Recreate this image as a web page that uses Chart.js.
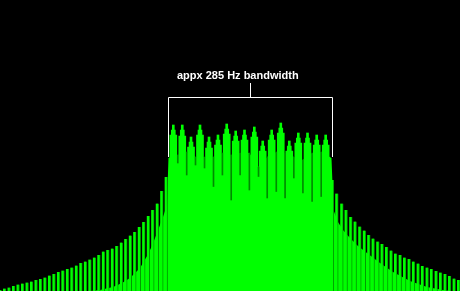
<!DOCTYPE html>
<html>
<head>
<meta charset="utf-8">
<script src="https://cdn.jsdelivr.net/npm/chart.js@4/dist/chart.umd.min.js"></script>
<style>
  html, body { margin: 0; padding: 0; background: #000; }
  #wrap { position: relative; width: 460px; height: 291px; }
  #label {
    position: absolute; left: 177px; top: 69px;
    font: bold 11px "Liberation Sans", Arial, sans-serif; line-height: 13px;
    color: #fff; white-space: nowrap;
  }
</style>
</head>
<body>
<div id="wrap">
  <canvas id="chart" width="460" height="291"></canvas>
  <div id="label">appx 285 Hz bandwidth</div>
</div>
<script>
// frequency axis (Hz) and level axis (dB)
const FREQ_MIN = 0, FREQ_MAX = 800;
const DB_MIN = -58.2, DB_MAX = 0;

// sideband spikes left of the main signal
const leftSpikeHz = [0, 7.8, 15.6, 23.4, 31.2, 39.0, 46.9, 54.7, 62.5, 70.3, 78.1, 85.9, 93.7, 101.5, 109.3,
  117.1, 124.9, 132.7, 140.5, 148.3, 156.2, 164.0, 171.8, 179.6, 187.4, 195.2, 203.0, 210.8, 218.6, 226.4,
  234.2, 242.0, 249.8, 257.7, 265.5, 273.3, 281.2, 288.8];
const leftSpikeDb = [-58.0, -57.7, -57.5, -57.2, -56.9, -56.7, -56.5, -56.3, -56.0, -55.8, -55.5, -55.1, -54.8, -54.4, -54.1,
  -53.8, -53.5, -53.1, -52.6, -52.3, -51.9, -51.5, -51.0, -50.3, -50.0, -49.7, -49.2, -48.5, -47.8, -47.1,
  -46.4, -45.4, -44.4, -43.2, -42.0, -40.7, -38.2, -35.4];

// sideband spikes right of the main signal
const rightSpikeHz = [577.9, 585.6, 594.3, 601.7, 609.9, 617.4, 625.6, 633.4, 641.2, 648.7, 656.9, 664.3, 672.2, 680.0,
  687.8, 695.7, 703.5, 711.3, 718.8, 727.0, 734.4, 742.6, 750.1, 758.3, 766.1, 773.9, 781.7, 789.6, 797.4];
const rightSpikeDb = [-36.0, -38.7, -40.7, -42.0, -43.4, -44.3, -45.3, -46.1, -47.0, -47.7, -48.3, -48.8, -49.4, -50.1,
  -50.7, -51.0, -51.5, -51.8, -52.3, -52.7, -53.2, -53.5, -53.8, -54.2, -54.5, -54.8, -55.2, -55.7, -56.0];

// main lobes inside the bandwidth
const lobeHz = [301.4, 317.0, 332.2, 347.8, 363.5, 379.1, 394.3, 409.9, 425.2, 442.3, 456.9, 472.5, 488.3, 503.1, 518.8, 534.8, 550.8, 566.4];
const lobePeakDb = [-25.0, -25.0, -27.4, -25.0, -27.4, -27.0, -24.8, -26.2, -26.0, -25.4, -28.2, -26.0, -24.6, -28.2, -26.6, -26.6, -27.0, -27.0];
const lobeMidDb = [-26.0, -26.0, -28.4, -26.0, -28.4, -28.0, -25.8, -27.2, -27.0, -26.4, -29.2, -27.0, -25.6, -29.2, -27.6, -27.6, -28.0, -28.0];
const lobeShoulderDb = [-27.0, -27.2, -29.4, -27.0, -29.6, -29.0, -26.8, -28.2, -28.0, -27.4, -30.2, -28.0, -26.6, -30.2, -28.6, -28.6, -29.0, -29.0];

// gaps between lobes: where the gap closes and how deep the null goes
const gapHz = [309.2, 324.7, 340.0, 355.7, 371.3, 386.8, 402.1, 417.6, 433.7, 449.6, 464.7, 480.5, 495.8, 511.0, 526.8, 542.8, 558.6];
const gapTopDb = [-31.0, -30.4, -31.4, -31.4, -31.4, -30.6, -31.0, -30.6, -30.6, -33.4, -31.4, -30.4, -30.6, -31.4, -32.0, -30.6, -30.4];
const gapNullDb = [-32.6, -35.0, -33.0, -33.6, -37.3, -35.0, -40.0, -35.0, -38.0, -35.3, -39.6, -38.3, -39.6, -35.6, -38.6, -40.3, -39.3];

// solid noise floor outside the lobes
const floorLeftHz = [0, 156.5, 173.9, 196.5, 212.2, 226.1, 243.5, 255.7, 264.3, 273.0, 283.5, 290.4, 293.0];
const floorLeftDb = [-58.4, -58.2, -58.0, -57.4, -56.6, -55.6, -53.6, -51.2, -49.2, -46.6, -43.4, -41.0, -31.6];
const floorRightHz = [576.5, 580.0, 587.8, 596.5, 608.7, 622.6, 638.3, 660.9, 683.5, 713.0, 742.6, 770.4, 800];
const floorRightDb = [-31.6, -42.0, -44.4, -46.0, -47.6, -49.2, -50.6, -52.6, -54.4, -56.2, -57.4, -58.0, -58.4];

// bandwidth bracket
const bracketHz = [292, 577];
const bracketDb = -19.4, bracketLegDb = -31.3, bracketTickDb = -16.6;

const GREEN = '#00ff00';
const DARK = '#009900';

const bars = (xs, ys, lo) => xs.map((x, i) => ({ x: x, y: [lo ? lo[i] : DB_MIN, ys[i]] }));
const pts = (xs, ys) => xs.map((x, i) => ({ x: x, y: ys[i] }));

const floorData = pts(floorLeftHz, floorLeftDb)
  .concat(pts(gapHz, gapTopDb))
  .concat(pts(floorRightHz, floorRightDb));

const bracketPlugin = {
  id: 'bracket',
  afterDatasetsDraw(chart) {
    const { ctx, scales: { x, y } } = chart;
    const x1 = Math.round(x.getPixelForValue(bracketHz[0])) + 0.5;
    const x2 = Math.round(x.getPixelForValue(bracketHz[1])) + 0.5;
    const xm = Math.round(x.getPixelForValue((bracketHz[0] + bracketHz[1]) / 2)) + 0.5;
    const yt = Math.round(y.getPixelForValue(bracketDb)) + 0.5;
    const yl = Math.round(y.getPixelForValue(bracketLegDb));
    const yk = Math.round(y.getPixelForValue(bracketTickDb));
    ctx.save();
    ctx.strokeStyle = '#ffffff';
    ctx.lineWidth = 1;
    ctx.beginPath();
    ctx.moveTo(x1, yl);
    ctx.lineTo(x1, yt);
    ctx.lineTo(x2, yt);
    ctx.lineTo(x2, yl);
    ctx.moveTo(xm, yt);
    ctx.lineTo(xm, yk);
    ctx.stroke();
    ctx.restore();
  }
};

new Chart(document.getElementById('chart'), {
  type: 'bar',
  data: {
    datasets: [
      {
        label: 'nulls', data: bars(gapHz, gapTopDb, gapNullDb),
        backgroundColor: '#008a00', barThickness: 1, order: 0
      },
      {
        label: 'lobe tips', data: bars(lobeHz, lobePeakDb),
        backgroundColor: GREEN, barThickness: 2, order: 1
      },
      {
        label: 'lobe mid', data: bars(lobeHz, lobeMidDb),
        backgroundColor: GREEN, barThickness: 4, order: 2
      },
      {
        label: 'lobe body', data: bars(lobeHz, lobeShoulderDb),
        backgroundColor: GREEN, barThickness: 7, order: 3
      },
      {
        label: 'left spikes', data: bars(leftSpikeHz, leftSpikeDb),
        backgroundColor: GREEN, borderColor: DARK,
        borderWidth: { left: 0, right: 1, top: 0, bottom: 0 }, borderSkipped: false,
        barThickness: 3, order: 4
      },
      {
        label: 'right spikes', data: bars(rightSpikeHz, rightSpikeDb),
        backgroundColor: GREEN, borderColor: DARK,
        borderWidth: { left: 0, right: 1, top: 0, bottom: 0 }, borderSkipped: false,
        barThickness: 3, order: 5
      },
      {
        type: 'line', label: 'floor', data: floorData,
        backgroundColor: GREEN, borderWidth: 0, pointRadius: 0,
        tension: 0, fill: 'start', order: 6
      }
    ]
  },
  options: {
    responsive: false,
    animation: false,
    events: [],
    layout: { padding: 0 },
    datasets: { bar: { grouped: false } },
    plugins: { legend: { display: false }, tooltip: { enabled: false } },
    scales: {
      x: { type: 'linear', min: FREQ_MIN, max: FREQ_MAX, offset: false, display: false },
      y: { min: DB_MIN, max: DB_MAX, display: false }
    }
  },
  plugins: [bracketPlugin]
});
</script>
</body>
</html>
